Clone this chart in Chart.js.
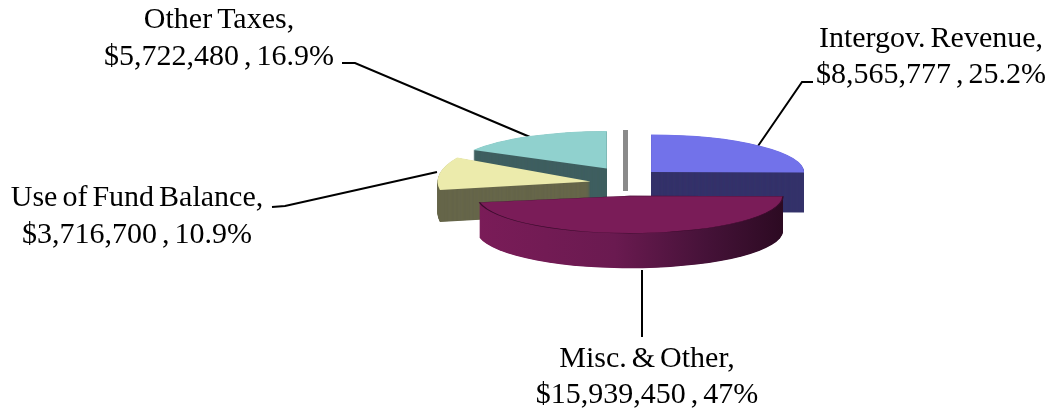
<!DOCTYPE html>
<html><head><meta charset="utf-8">
<style>html,body{margin:0;padding:0;background:#fff}canvas{display:block;filter:blur(0.4px)}</style>
<script src="https://cdn.jsdelivr.net/npm/chart.js@4"></script>
</head><body>
<canvas id="c" width="1054" height="414"></canvas>
<script>
const categories = ['Intergov. Revenue', 'Misc. & Other', 'Use of Fund Balance', 'Other Taxes'];
const amounts = [8565777, 15939450, 3716700, 5722480];
const percentLabels = ['25.2%', '47%', '10.9%', '16.9%'];

const topColors = ['#7272ea', '#7a1c58', '#ecebac', '#90d1ce'];
const wallColors = ['#34326a', '#7a1c58', '#66664a', '#3f5f60'];
const edgeWidths = [0, 1.5, 0, 0];
const explode = [38, 75, 38, 38];
const sliceShift = [[0, 0], [0, -1], [4, 5], [2, -2]];
const sliceDepth = [40, 35, 32, 36];
const sliceTilt = [0.245, 0.245, 0.32, 0.245];
const paintOrder = [3, 0, 2, 1];
const centerX = 624, centerY = 178.5, pieRadius = 153;

const labelBoxes = [
  {x: 931, y: 46.5}, {x: 647, y: 366.7}, {x: 137, y: 206}, {x: 219, y: 28}
];
const leaders = [
  [[813, 82], [802, 82], [758, 146]],
  [[642, 270], [642, 337]],
  [[272, 207], [285, 206], [437, 172]],
  [[342, 63], [355, 63], [530, 137]]
];
const LINE_GAP = 36.5;

const pie3d = {
  id: 'pie3d',
  beforeDatasetDraw(chart, args) {
    const ctx = chart.ctx;
    const meta = chart.getDatasetMeta(args.index);
    const place = (el, i, dz) => {
      const mid = (el.startAngle + el.endAngle) / 2;
      const tilt = sliceTilt[i];
      ctx.translate(centerX + sliceShift[i][0] + Math.cos(mid) * explode[i],
                    centerY + sliceShift[i][1] + dz + Math.sin(mid) * explode[i] * tilt);
      ctx.scale(1, tilt);
      ctx.translate(-el.x, -el.y);
    };
    ctx.save();
    ctx.strokeStyle = '#000'; ctx.lineWidth = 2;
    leaders.forEach(pts => {
      ctx.beginPath();
      pts.forEach((p, k) => k ? ctx.lineTo(p[0], p[1]) : ctx.moveTo(p[0], p[1]));
      ctx.stroke();
    });
    ctx.fillStyle = '#8a8a8a';
    ctx.fillRect(623, 130, 5, 61);
    ctx.restore();

    paintOrder.forEach(i => {
      const el = meta.data[i];
      const base = el.options;
      let wall = wallColors[i];
      if (i === 1) {
        const g = ctx.createLinearGradient(el.x - pieRadius, 0, el.x + pieRadius, 0);
        g.addColorStop(0, '#7a1c58'); g.addColorStop(0.45, '#6a1a50');
        g.addColorStop(0.75, '#451238'); g.addColorStop(1, '#2c0a22');
        wall = g;
      }
      el.options = Object.assign({}, base, {backgroundColor: wall, borderWidth: 0});
      for (let dz = sliceDepth[i]; dz > 0; dz -= 0.5) {
        ctx.save(); place(el, i, dz); el.draw(ctx); ctx.restore();
      }
      el.options = base;
      ctx.save(); place(el, i, 0); el.draw(ctx); ctx.restore();
    });
    return false;
  },
  afterDraw(chart) {
    const ctx = chart.ctx;
    ctx.save();
    ctx.fillStyle = '#000';
    ctx.font = '30px "Liberation Serif", serif';
    ctx.wordSpacing = '-2.5px';
    ctx.textAlign = 'center';
    ctx.textBaseline = 'alphabetic';
    categories.forEach((name, i) => {
      const b = labelBoxes[i];
      ctx.fillText(name + ',', b.x, b.y);
      ctx.fillText('$' + amounts[i].toLocaleString('en-US') + ' , ' + percentLabels[i], b.x, b.y + LINE_GAP);
    });
    ctx.restore();
  }
};

new Chart(document.getElementById('c'), {
  type: 'pie',
  data: {
    labels: categories,
    datasets: [{data: amounts, backgroundColor: topColors, borderWidth: edgeWidths, borderColor: '#3a0c2c'}]
  },
  options: {
    responsive: false,
    animation: false,
    radius: pieRadius,
    plugins: {legend: {display: false}, tooltip: {enabled: false}}
  },
  plugins: [pie3d]
});
</script>
</body></html>
